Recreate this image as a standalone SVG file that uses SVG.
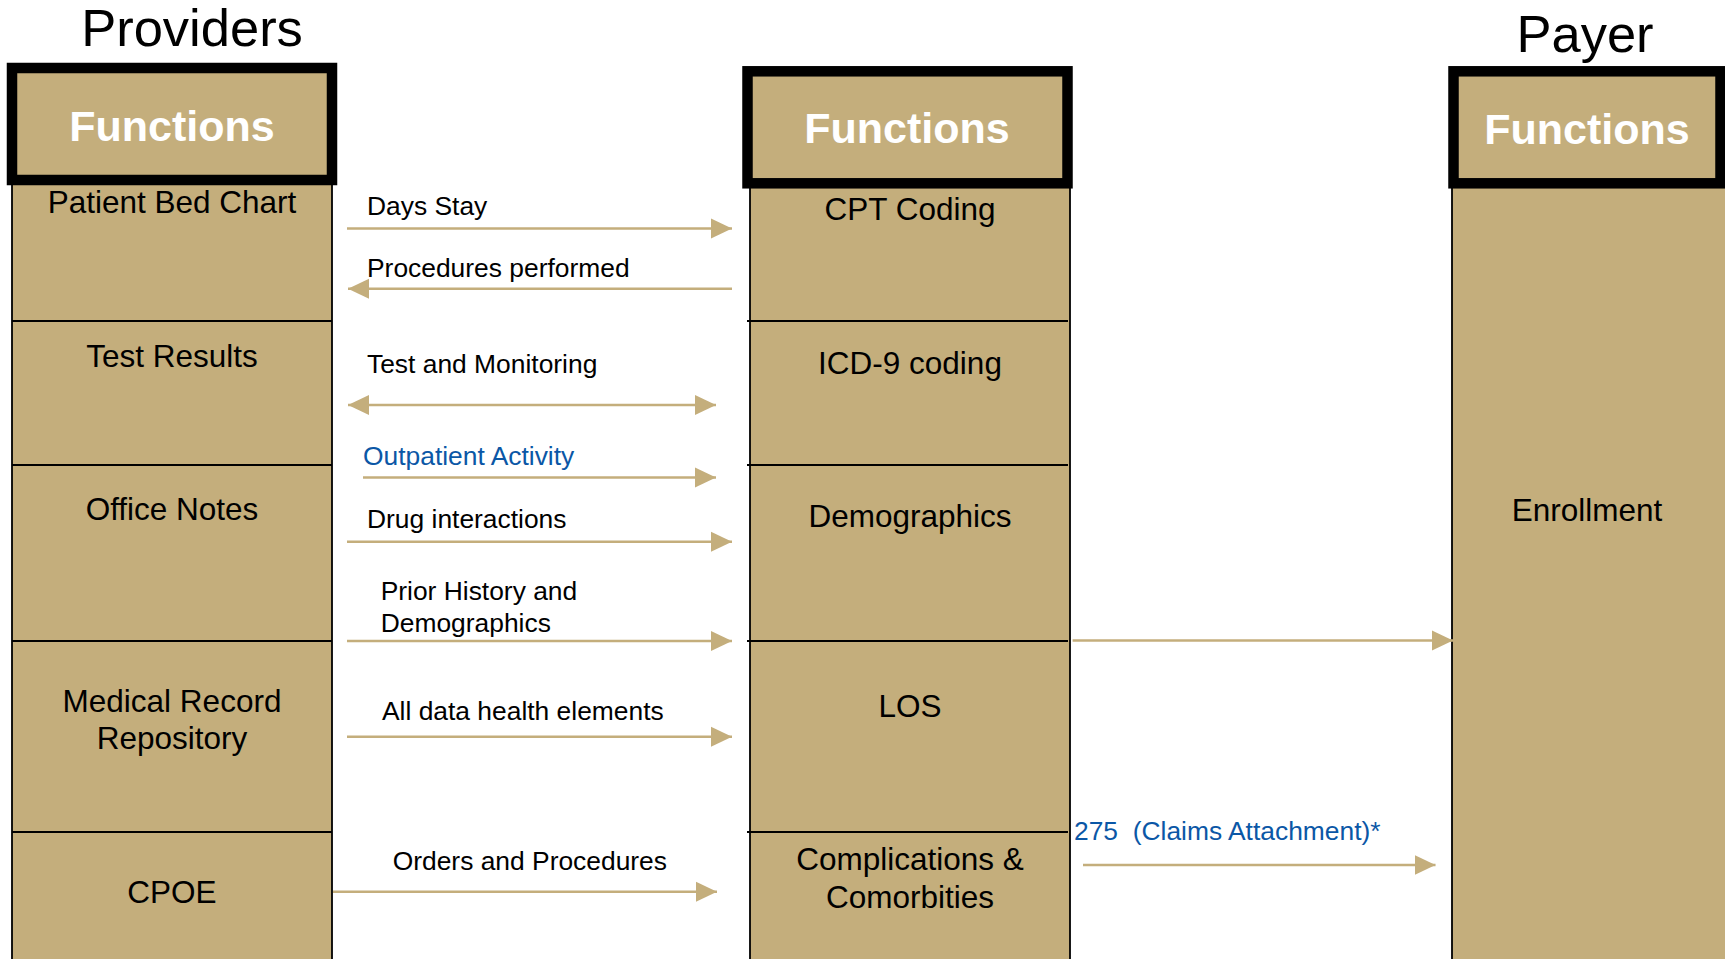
<svg xmlns="http://www.w3.org/2000/svg" width="1725" height="959" viewBox="0 0 1725 959">
  <style>
    .body { fill: #C4AE7C; stroke: #000; stroke-width: 1.8; }
    .head { fill: #C4AE7C; stroke: #000; stroke-width: 10.5; }
    .div { stroke: #000; stroke-width: 2.2; }
    .title { font-family: "Liberation Sans", Arial, sans-serif; font-size: 52.5px; fill: #000; text-anchor: middle; }
    .hd { font-family: "Liberation Sans", Arial, sans-serif; font-size: 43px; font-weight: bold; fill: #fff; text-anchor: middle; }
    .cell { font-family: "Liberation Sans", Arial, sans-serif; font-size: 31.5px; fill: #000; text-anchor: middle; }
    .lbl { font-family: "Liberation Sans", Arial, sans-serif; font-size: 26.4px; fill: #000; }
    .blue { fill: #0B57A6; }
    .flow { stroke: #C4AE7C; stroke-width: 2.6; fill: none; }
  </style>
  <defs>
    <marker id="tip" markerUnits="userSpaceOnUse" markerWidth="22" markerHeight="22" viewBox="0 0 22 22" refX="21" refY="11" orient="auto-start-reverse">
      <path d="M0,1 L21,11 L0,21 Z" fill="#C4AE7C"/>
    </marker>
  </defs>

  <!-- Column headings -->
  <text class="title" x="192" y="46">Providers</text>
  <text class="title" x="1585" y="52">Payer</text>

  <!-- Providers column -->
  <g id="providers">
    <rect class="body" x="12" y="170" width="320" height="810"/>
    <line class="div" x1="12" y1="321" x2="332" y2="321"/>
    <line class="div" x1="12" y1="465" x2="332" y2="465"/>
    <line class="div" x1="12" y1="641" x2="332" y2="641"/>
    <line class="div" x1="12" y1="832" x2="332" y2="832"/>
    <rect class="head" x="12" y="68" width="320" height="112"/>
    <text class="hd" x="172" y="141">Functions</text>
  </g>
  <g id="patient-bed-chart"><text class="cell" x="172" y="213">Patient Bed Chart</text></g>
  <g id="test-results"><text class="cell" x="172" y="367">Test Results</text></g>
  <g id="office-notes"><text class="cell" x="172" y="520">Office Notes</text></g>
  <g id="medical-record-repository">
    <text class="cell" x="172" y="712">Medical Record</text>
    <text class="cell" x="172" y="749">Repository</text>
  </g>
  <g id="cpoe"><text class="cell" x="172" y="903">CPOE</text></g>

  <!-- Coding column -->
  <g id="coding">
    <rect class="body" x="750" y="170" width="320" height="810"/>
    <line class="div" x1="747" y1="321" x2="1068" y2="321"/>
    <line class="div" x1="747" y1="465" x2="1068" y2="465"/>
    <line class="div" x1="747" y1="641" x2="1068" y2="641"/>
    <line class="div" x1="747" y1="832" x2="1068" y2="832"/>
    <rect class="head" x="747.5" y="71.3" width="320" height="112"/>
    <text class="hd" x="907" y="143">Functions</text>
  </g>
  <g id="cpt-coding"><text class="cell" x="910" y="220">CPT Coding</text></g>
  <g id="icd9-coding"><text class="cell" x="910" y="374">ICD-9 coding</text></g>
  <g id="demographics"><text class="cell" x="910" y="527">Demographics</text></g>
  <g id="los"><text class="cell" x="910" y="717">LOS</text></g>
  <g id="complications">
    <text class="cell" x="910" y="870">Complications &amp;</text>
    <text class="cell" x="910" y="908">Comorbities</text>
  </g>

  <!-- Payer column -->
  <g id="payer">
    <rect class="body" x="1452" y="170" width="300" height="810"/>
    <rect class="head" x="1453.5" y="71.3" width="267" height="112"/>
    <text class="hd" x="1587" y="144">Functions</text>
    <text class="cell" x="1587" y="521">Enrollment</text>
  </g>

  <!-- Data flows -->
  <g id="connectors">
    <line class="flow" x1="347" y1="228.5" x2="732" y2="228.5" marker-end="url(#tip)"/>
    <line class="flow" x1="732" y1="288.7" x2="348" y2="288.7" marker-end="url(#tip)"/>
    <line class="flow" x1="348" y1="405" x2="716" y2="405" marker-start="url(#tip)" marker-end="url(#tip)"/>
    <line class="flow" x1="363" y1="477.5" x2="716" y2="477.5" marker-end="url(#tip)"/>
    <line class="flow" x1="347" y1="541.7" x2="732" y2="541.7" marker-end="url(#tip)"/>
    <line class="flow" x1="347" y1="641" x2="732" y2="641" marker-end="url(#tip)"/>
    <line class="flow" x1="347" y1="736.7" x2="732" y2="736.7" marker-end="url(#tip)"/>
    <line class="flow" x1="333" y1="891.7" x2="717" y2="891.7" marker-end="url(#tip)"/>
    <line class="flow" x1="1072.6" y1="640.5" x2="1453" y2="640.5" marker-end="url(#tip)"/>
    <line class="flow" x1="1083" y1="865" x2="1435.5" y2="865" marker-end="url(#tip)"/>

    <text class="lbl" x="367" y="215">Days Stay</text>
    <text class="lbl" x="367" y="276.7">Procedures performed</text>
    <text class="lbl" x="367" y="373.3">Test and Monitoring</text>
    <text class="lbl blue" x="363" y="465">Outpatient Activity</text>
    <text class="lbl" x="367" y="528.3">Drug interactions</text>
    <text class="lbl" x="380.7" y="600">Prior History and</text>
    <text class="lbl" x="380.7" y="631.7">Demographics</text>
    <text class="lbl" x="382" y="720">All data health elements</text>
    <text class="lbl" x="392.7" y="870">Orders and Procedures</text>
    <text class="lbl blue" x="1074" y="839.5" xml:space="preserve">275  (Claims Attachment)*</text>
  </g>
</svg>
